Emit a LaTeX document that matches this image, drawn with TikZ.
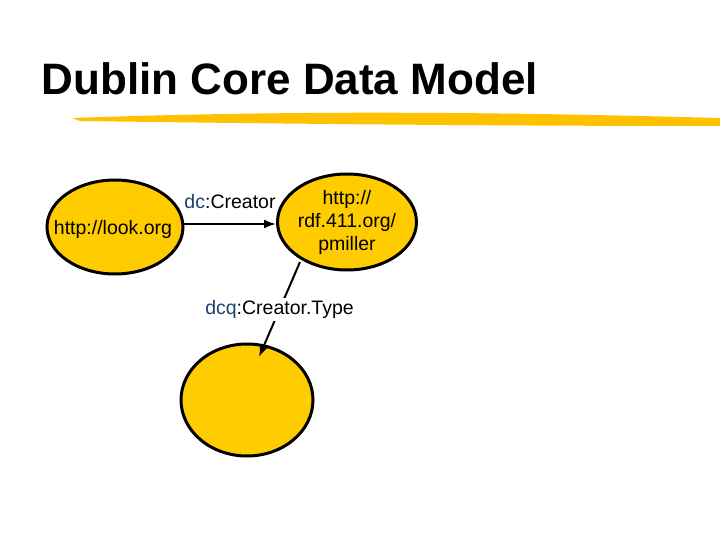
\documentclass[tikz,border=0pt]{standalone}
\usepackage{fontspec}
\setmainfont{Liberation Sans}
\usetikzlibrary{shapes.geometric,arrows.meta}
\definecolor{gold}{HTML}{FFCC00}
\definecolor{dcblue}{HTML}{1F3F6F}
\begin{document}
\begin{tikzpicture}[x=1pt,y=-1pt,
  res/.style={ellipse,draw=black,line width=3pt,fill=gold,inner sep=0pt,align=center,font=\fontsize{19.5}{23}\selectfont},
  lbl/.style={font=\fontsize{19.5}{23}\selectfont},
  arr/.style={line width=2pt,-{Latex[length=12pt,width=9pt]}}]
\useasboundingbox (0,0) rectangle (720,540);
\node[anchor=base west,font=\fontsize{44}{50}\bfseries\selectfont] (title) at (38,95) {Dublin Core Data Model};
\fill[gold!85!orange] (72,118) .. controls (300,110) and (500,112) .. (720,118) -- (720,126) .. controls (500,126) and (300,124) .. (80,121) -- cycle;
\node[res,minimum width=136pt,minimum height=94pt] (a) at (115,227) {};
\node[font=\fontsize{19.5}{23}\selectfont] (at) at (113,229) {http://look.org};
\node[res,minimum width=130pt,minimum height=96pt] (b) at (347,222) {http://\\rdf.411.org/\\pmiller};
\node[res,minimum width=132pt,minimum height=112pt] (c) at (247,400) {};
\draw[arr] (183,224) -- (b.west |- 0,224);
\node[lbl] (l1) at (230,202) {\textcolor{dcblue}{dc}:Creator};
\coordinate (s) at (300,262);
\coordinate (e) at (259,357);
\draw[arr] (s) -- node[lbl,fill=white,inner sep=2pt] (l2) {\textcolor{dcblue}{dcq}:Creator.Type} (e);
\end{tikzpicture}
\end{document}
